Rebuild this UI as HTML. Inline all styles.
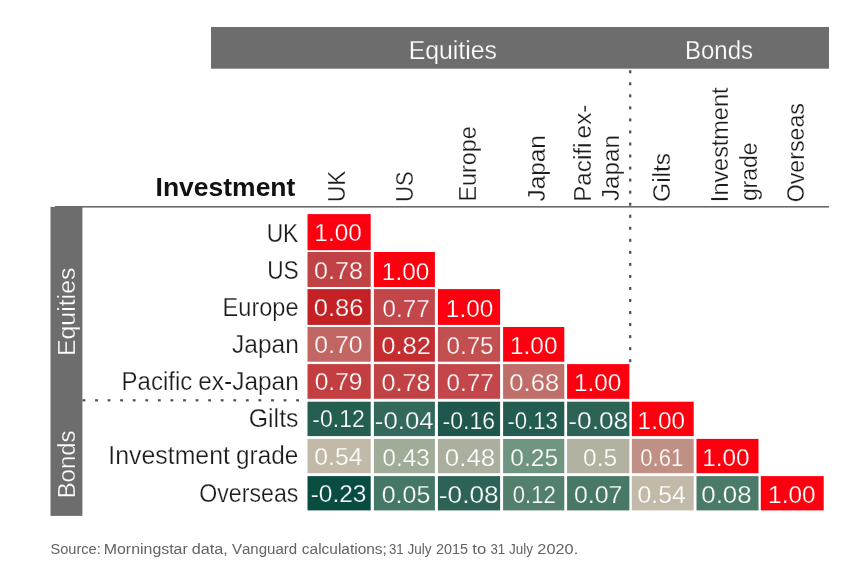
<!DOCTYPE html>
<html lang="en">
<head>
<meta charset="utf-8">
<title>Correlation matrix</title>
<style>
html,body{margin:0;padding:0;background:#ffffff;}
body{width:849px;height:570px;overflow:hidden;}
svg{display:block;}
svg text{font-family:"Liberation Sans",sans-serif;font-kerning:none;white-space:pre;}
</style>
</head>
<body>
<svg width="849" height="570" viewBox="0 0 849 570">
<rect width="849" height="570" fill="#ffffff"/>
<rect x="211" y="27" width="618" height="41.7" fill="#6d6d6d"/>
<rect x="50.5" y="206.9" width="31.9" height="309" fill="#6d6d6d"/>
<rect x="55" y="206.0" width="773.9" height="1.6" fill="#6a6a6a"/>
<g fill="#4c4c4c"><rect x="82.50" y="399.20" width="2.8" height="2.2"/><rect x="95.07" y="399.20" width="2.8" height="2.2"/><rect x="107.64" y="399.20" width="2.8" height="2.2"/><rect x="120.21" y="399.20" width="2.8" height="2.2"/><rect x="132.78" y="399.20" width="2.8" height="2.2"/><rect x="145.35" y="399.20" width="2.8" height="2.2"/><rect x="157.92" y="399.20" width="2.8" height="2.2"/><rect x="170.49" y="399.20" width="2.8" height="2.2"/><rect x="183.06" y="399.20" width="2.8" height="2.2"/><rect x="195.63" y="399.20" width="2.8" height="2.2"/><rect x="208.20" y="399.20" width="2.8" height="2.2"/><rect x="220.77" y="399.20" width="2.8" height="2.2"/><rect x="233.34" y="399.20" width="2.8" height="2.2"/><rect x="245.91" y="399.20" width="2.8" height="2.2"/><rect x="258.48" y="399.20" width="2.8" height="2.2"/><rect x="271.05" y="399.20" width="2.8" height="2.2"/><rect x="283.62" y="399.20" width="2.8" height="2.2"/><rect x="296.19" y="399.20" width="2.8" height="2.2"/><rect x="629.10" y="70.25" width="2.2" height="3"/><rect x="629.10" y="82.29" width="2.2" height="3"/><rect x="629.10" y="94.33" width="2.2" height="3"/><rect x="629.10" y="106.37" width="2.2" height="3"/><rect x="629.10" y="118.41" width="2.2" height="3"/><rect x="629.10" y="130.45" width="2.2" height="3"/><rect x="629.10" y="142.49" width="2.2" height="3"/><rect x="629.10" y="154.53" width="2.2" height="3"/><rect x="629.10" y="166.57" width="2.2" height="3"/><rect x="629.10" y="178.61" width="2.2" height="3"/><rect x="629.10" y="190.65" width="2.2" height="3"/><rect x="629.10" y="202.69" width="2.2" height="3"/><rect x="629.10" y="214.73" width="2.2" height="3"/><rect x="629.10" y="226.77" width="2.2" height="3"/><rect x="629.10" y="238.81" width="2.2" height="3"/><rect x="629.10" y="250.85" width="2.2" height="3"/><rect x="629.10" y="262.89" width="2.2" height="3"/><rect x="629.10" y="274.93" width="2.2" height="3"/><rect x="629.10" y="286.97" width="2.2" height="3"/><rect x="629.10" y="299.01" width="2.2" height="3"/><rect x="629.10" y="311.05" width="2.2" height="3"/><rect x="629.10" y="323.09" width="2.2" height="3"/><rect x="629.10" y="335.13" width="2.2" height="3"/><rect x="629.10" y="347.17" width="2.2" height="3"/><rect x="629.10" y="359.21" width="2.2" height="3"/></g>
<rect x="307.5" y="214.1" width="63.2" height="36.1" fill="#fd000f"/>
<rect x="307.5" y="252.0" width="63.2" height="35.0" fill="#c14245"/>
<rect x="373.9" y="252.0" width="61.0" height="35.0" fill="#fd000f"/>
<rect x="307.5" y="289.1" width="63.2" height="35.8" fill="#c42125"/>
<rect x="373.9" y="289.1" width="61.0" height="35.8" fill="#c2464a"/>
<rect x="437.9" y="289.1" width="62.2" height="35.8" fill="#fd000f"/>
<rect x="307.5" y="327.0" width="63.2" height="34.7" fill="#c26664"/>
<rect x="373.9" y="327.0" width="61.0" height="34.7" fill="#c42e31"/>
<rect x="437.9" y="327.0" width="62.2" height="34.7" fill="#c25051"/>
<rect x="503.1" y="327.0" width="61.2" height="34.7" fill="#fd000f"/>
<rect x="307.5" y="364.1" width="63.2" height="34.7" fill="#c23e41"/>
<rect x="373.9" y="364.1" width="61.0" height="34.7" fill="#c14245"/>
<rect x="437.9" y="364.1" width="62.2" height="34.7" fill="#c2464a"/>
<rect x="503.1" y="364.1" width="61.2" height="34.7" fill="#c06e6a"/>
<rect x="567.1" y="364.1" width="62.3" height="34.7" fill="#fd000f"/>
<rect x="307.5" y="401.7" width="63.2" height="34.4" fill="#245e51"/>
<rect x="373.9" y="401.7" width="61.0" height="34.4" fill="#33695c"/>
<rect x="437.9" y="401.7" width="62.2" height="34.4" fill="#20574c"/>
<rect x="503.1" y="401.7" width="61.2" height="34.4" fill="#235c50"/>
<rect x="567.1" y="401.7" width="62.3" height="34.4" fill="#2c6356"/>
<rect x="631.8" y="401.7" width="61.9" height="34.4" fill="#fd000f"/>
<rect x="307.5" y="438.9" width="63.2" height="34.3" fill="#c1baa9"/>
<rect x="373.9" y="438.9" width="61.0" height="34.3" fill="#9fac97"/>
<rect x="437.9" y="438.9" width="62.2" height="34.3" fill="#abaf9d"/>
<rect x="503.1" y="438.9" width="61.2" height="34.3" fill="#6f9480"/>
<rect x="567.1" y="438.9" width="62.3" height="34.3" fill="#b3b1a0"/>
<rect x="631.8" y="438.9" width="61.9" height="34.3" fill="#c09085"/>
<rect x="696.5" y="438.9" width="62.0" height="34.3" fill="#fd000f"/>
<rect x="307.5" y="476.1" width="63.2" height="34.3" fill="#094c40"/>
<rect x="373.9" y="476.1" width="61.0" height="34.3" fill="#447765"/>
<rect x="437.9" y="476.1" width="62.2" height="34.3" fill="#2c6356"/>
<rect x="503.1" y="476.1" width="61.2" height="34.3" fill="#53806d"/>
<rect x="567.1" y="476.1" width="62.3" height="34.3" fill="#487967"/>
<rect x="631.8" y="476.1" width="61.9" height="34.3" fill="#c1baa9"/>
<rect x="696.5" y="476.1" width="62.0" height="34.3" fill="#4a7a68"/>
<rect x="760.8" y="476.1" width="62.9" height="34.3" fill="#fd000f"/>
<text x="314.37" textLength="47.35" lengthAdjust="spacingAndGlyphs" y="241.30" font-size="24.6" fill="#ffffff" stroke="#fd000f" stroke-width="0.25">1.00</text>
<text x="314.08" textLength="48.92" lengthAdjust="spacingAndGlyphs" y="278.51" font-size="24.6" fill="#ffffff" stroke="#c14245" stroke-width="0.25">0.78</text>
<text x="381.87" textLength="47.35" lengthAdjust="spacingAndGlyphs" y="279.71" font-size="24.6" fill="#ffffff" stroke="#fd000f" stroke-width="0.25">1.00</text>
<text x="313.66" textLength="49.81" lengthAdjust="spacingAndGlyphs" y="315.72" font-size="24.6" fill="#ffffff" stroke="#c42125" stroke-width="0.25">0.86</text>
<text x="382.62" textLength="47.04" lengthAdjust="spacingAndGlyphs" y="316.92" font-size="24.6" fill="#ffffff" stroke="#c2464a" stroke-width="0.25">0.77</text>
<text x="445.87" textLength="47.35" lengthAdjust="spacingAndGlyphs" y="316.92" font-size="24.6" fill="#ffffff" stroke="#fd000f" stroke-width="0.25">1.00</text>
<text x="314.39" textLength="48.19" lengthAdjust="spacingAndGlyphs" y="352.93" font-size="24.6" fill="#ffffff" stroke="#c26664" stroke-width="0.25">0.70</text>
<text x="381.26" textLength="49.76" lengthAdjust="spacingAndGlyphs" y="354.13" font-size="24.6" fill="#ffffff" stroke="#c42e31" stroke-width="0.25">0.82</text>
<text x="446.46" textLength="47.15" lengthAdjust="spacingAndGlyphs" y="354.13" font-size="24.6" fill="#ffffff" stroke="#c25051" stroke-width="0.25">0.75</text>
<text x="510.07" textLength="47.35" lengthAdjust="spacingAndGlyphs" y="354.13" font-size="24.6" fill="#ffffff" stroke="#fd000f" stroke-width="0.25">1.00</text>
<text x="314.70" textLength="47.77" lengthAdjust="spacingAndGlyphs" y="390.14" font-size="24.6" fill="#ffffff" stroke="#c23e41" stroke-width="0.25">0.79</text>
<text x="381.58" textLength="48.92" lengthAdjust="spacingAndGlyphs" y="391.34" font-size="24.6" fill="#ffffff" stroke="#c14245" stroke-width="0.25">0.78</text>
<text x="446.62" textLength="47.04" lengthAdjust="spacingAndGlyphs" y="391.34" font-size="24.6" fill="#ffffff" stroke="#c2464a" stroke-width="0.25">0.77</text>
<text x="509.36" textLength="49.76" lengthAdjust="spacingAndGlyphs" y="391.34" font-size="24.6" fill="#ffffff" stroke="#c06e6a" stroke-width="0.25">0.68</text>
<text x="573.92" textLength="47.35" lengthAdjust="spacingAndGlyphs" y="391.34" font-size="24.6" fill="#ffffff" stroke="#fd000f" stroke-width="0.25">1.00</text>
<text x="312.37" textLength="52.42" lengthAdjust="spacingAndGlyphs" y="427.35" font-size="24.6" fill="#ffffff" stroke="#245e51" stroke-width="0.25">-0.12</text>
<text x="374.80" textLength="58.80" lengthAdjust="spacingAndGlyphs" y="428.55" font-size="24.6" fill="#ffffff" stroke="#33695c" stroke-width="0.25">-0.04</text>
<text x="442.57" textLength="52.48" lengthAdjust="spacingAndGlyphs" y="428.55" font-size="24.6" fill="#ffffff" stroke="#20574c" stroke-width="0.25">-0.16</text>
<text x="507.51" textLength="50.41" lengthAdjust="spacingAndGlyphs" y="428.55" font-size="24.6" fill="#ffffff" stroke="#235c50" stroke-width="0.25">-0.13</text>
<text x="568.33" textLength="59.81" lengthAdjust="spacingAndGlyphs" y="428.55" font-size="24.6" fill="#ffffff" stroke="#2c6356" stroke-width="0.25">-0.08</text>
<text x="637.62" textLength="47.35" lengthAdjust="spacingAndGlyphs" y="428.55" font-size="24.6" fill="#ffffff" stroke="#fd000f" stroke-width="0.25">1.00</text>
<text x="314.24" textLength="48.24" lengthAdjust="spacingAndGlyphs" y="464.56" font-size="24.6" fill="#ffffff" stroke="#c1baa9" stroke-width="0.25">0.54</text>
<text x="382.52" textLength="47.09" lengthAdjust="spacingAndGlyphs" y="465.76" font-size="24.6" fill="#ffffff" stroke="#9fac97" stroke-width="0.25">0.43</text>
<text x="444.85" textLength="50.38" lengthAdjust="spacingAndGlyphs" y="465.76" font-size="24.6" fill="#ffffff" stroke="#abaf9d" stroke-width="0.25">0.48</text>
<text x="510.35" textLength="47.77" lengthAdjust="spacingAndGlyphs" y="465.76" font-size="24.6" fill="#ffffff" stroke="#6f9480" stroke-width="0.25">0.25</text>
<text x="583.05" textLength="34.09" lengthAdjust="spacingAndGlyphs" y="465.76" font-size="24.6" fill="#ffffff" stroke="#b3b1a0" stroke-width="0.25">0.5</text>
<text x="640.29" textLength="43.12" lengthAdjust="spacingAndGlyphs" y="465.76" font-size="24.6" fill="#ffffff" stroke="#c09085" stroke-width="0.25">0.61</text>
<text x="702.27" textLength="47.35" lengthAdjust="spacingAndGlyphs" y="465.76" font-size="24.6" fill="#ffffff" stroke="#fd000f" stroke-width="0.25">1.00</text>
<text x="310.66" textLength="55.71" lengthAdjust="spacingAndGlyphs" y="501.77" font-size="24.6" fill="#ffffff" stroke="#094c40" stroke-width="0.25">-0.23</text>
<text x="381.74" textLength="48.61" lengthAdjust="spacingAndGlyphs" y="502.97" font-size="24.6" fill="#ffffff" stroke="#447765" stroke-width="0.25">0.05</text>
<text x="438.88" textLength="59.81" lengthAdjust="spacingAndGlyphs" y="502.97" font-size="24.6" fill="#ffffff" stroke="#2c6356" stroke-width="0.25">-0.08</text>
<text x="512.85" textLength="42.95" lengthAdjust="spacingAndGlyphs" y="502.97" font-size="24.6" fill="#ffffff" stroke="#53806d" stroke-width="0.25">0.12</text>
<text x="573.94" textLength="48.51" lengthAdjust="spacingAndGlyphs" y="502.97" font-size="24.6" fill="#ffffff" stroke="#487967" stroke-width="0.25">0.07</text>
<text x="637.49" textLength="48.24" lengthAdjust="spacingAndGlyphs" y="502.97" font-size="24.6" fill="#ffffff" stroke="#c1baa9" stroke-width="0.25">0.54</text>
<text x="701.25" textLength="50.38" lengthAdjust="spacingAndGlyphs" y="502.97" font-size="24.6" fill="#ffffff" stroke="#4a7a68" stroke-width="0.25">0.08</text>
<text x="768.12" textLength="47.35" lengthAdjust="spacingAndGlyphs" y="502.97" font-size="24.6" fill="#ffffff" stroke="#fd000f" stroke-width="0.25">1.00</text>
<text x="408.69" textLength="88.30" lengthAdjust="spacingAndGlyphs" y="59.00" font-size="25.3" fill="#ffffff" stroke="#6d6d6d" stroke-width="0.25">Equities</text>
<text x="684.95" textLength="68.09" lengthAdjust="spacingAndGlyphs" y="59.00" font-size="25.3" fill="#ffffff" stroke="#6d6d6d" stroke-width="0.25">Bonds</text>
<text x="-2.04" textLength="88.41" lengthAdjust="spacingAndGlyphs" transform="translate(75.20 354.00) rotate(-90)" y="0" font-size="24.4" fill="#ffffff" stroke="#6d6d6d" stroke-width="0.25">Equities</text>
<text x="-1.97" textLength="67.99" lengthAdjust="spacingAndGlyphs" transform="translate(75.20 496.40) rotate(-90)" y="0" font-size="24.4" fill="#ffffff" stroke="#6d6d6d" stroke-width="0.25">Bonds</text>
<text x="155.57" textLength="139.80" lengthAdjust="spacingAndGlyphs" y="195.60" font-size="25.3" fill="#111111" font-weight="bold">Investment</text>
<text x="266.64" textLength="31.73" lengthAdjust="spacingAndGlyphs" y="241.60" font-size="25.3" fill="#1c1c1c" stroke="#ffffff" stroke-width="0.25">UK</text>
<text x="267.15" textLength="31.58" lengthAdjust="spacingAndGlyphs" y="278.73" font-size="25.3" fill="#1c1c1c" stroke="#ffffff" stroke-width="0.25">US</text>
<text x="222.59" textLength="75.96" lengthAdjust="spacingAndGlyphs" y="315.86" font-size="25.3" fill="#1c1c1c" stroke="#ffffff" stroke-width="0.25">Europe</text>
<text x="232.06" textLength="66.72" lengthAdjust="spacingAndGlyphs" y="352.99" font-size="25.3" fill="#1c1c1c" stroke="#ffffff" stroke-width="0.25">Japan</text>
<text y="390.12" font-size="25.3" fill="#1c1c1c" stroke="#ffffff" stroke-width="0.25"><tspan x="121.56" textLength="70.68" lengthAdjust="spacingAndGlyphs">Pacific</tspan> <tspan x="198.29" textLength="100.48" lengthAdjust="spacingAndGlyphs">ex-Japan</tspan></text>
<text x="248.77" textLength="49.71" lengthAdjust="spacingAndGlyphs" y="427.25" font-size="25.3" fill="#1c1c1c" stroke="#ffffff" stroke-width="0.25">Gilts</text>
<text y="464.38" font-size="25.3" fill="#1c1c1c" stroke="#ffffff" stroke-width="0.25"><tspan x="108.34" textLength="121.55" lengthAdjust="spacingAndGlyphs">Investment</tspan> <tspan x="236.09" textLength="62.17" lengthAdjust="spacingAndGlyphs">grade</tspan></text>
<text x="199.25" textLength="99.19" lengthAdjust="spacingAndGlyphs" y="501.51" font-size="25.3" fill="#1c1c1c" stroke="#ffffff" stroke-width="0.25">Overseas</text>
<text x="-1.70" textLength="31.35" lengthAdjust="spacingAndGlyphs" transform="translate(345.20 200.30) rotate(-90)" y="0" font-size="24.6" fill="#1c1c1c" stroke="#ffffff" stroke-width="0.25">UK</text>
<text x="-1.66" textLength="30.67" lengthAdjust="spacingAndGlyphs" transform="translate(413.20 200.30) rotate(-90)" y="0" font-size="24.6" fill="#1c1c1c" stroke="#ffffff" stroke-width="0.25">US</text>
<text x="-1.90" textLength="75.42" lengthAdjust="spacingAndGlyphs" transform="translate(476.20 199.70) rotate(-90)" y="0" font-size="24.6" fill="#1c1c1c" stroke="#ffffff" stroke-width="0.25">Europe</text>
<text x="-0.35" textLength="66.41" lengthAdjust="spacingAndGlyphs" transform="translate(545.20 201.20) rotate(-90)" y="0" font-size="24.6" fill="#1c1c1c" stroke="#ffffff" stroke-width="0.25">Japan</text>
<text transform="translate(591.20 199.80) rotate(-90)" y="0" font-size="24.6" fill="#1c1c1c" stroke="#ffffff" stroke-width="0.25"><tspan x="-1.97" textLength="59.14" lengthAdjust="spacingAndGlyphs">Pacifi</tspan> <tspan x="61.41" textLength="33.85" lengthAdjust="spacingAndGlyphs">ex-</tspan></text>
<text x="-0.35" textLength="66.10" lengthAdjust="spacingAndGlyphs" transform="translate(619.20 200.70) rotate(-90)" y="0" font-size="24.6" fill="#1c1c1c" stroke="#ffffff" stroke-width="0.25">Japan</text>
<text x="-1.19" textLength="48.94" lengthAdjust="spacingAndGlyphs" transform="translate(670.20 200.70) rotate(-90)" y="0" font-size="24.6" fill="#1c1c1c" stroke="#ffffff" stroke-width="0.25">Gilts</text>
<text x="-2.14" textLength="114.56" lengthAdjust="spacingAndGlyphs" transform="translate(728.20 200.00) rotate(-90)" y="0" font-size="24.6" fill="#1c1c1c" stroke="#ffffff" stroke-width="0.25">Investment</text>
<text x="-0.93" textLength="58.52" lengthAdjust="spacingAndGlyphs" transform="translate(757.20 200.20) rotate(-90)" y="0" font-size="24.6" fill="#1c1c1c" stroke="#ffffff" stroke-width="0.25">grade</text>
<text x="-1.08" textLength="99.20" lengthAdjust="spacingAndGlyphs" transform="translate(804.20 201.20) rotate(-90)" y="0" font-size="24.6" fill="#1c1c1c" stroke="#ffffff" stroke-width="0.25">Overseas</text>
<text y="553.50" font-size="14" fill="#636363"><tspan x="50.48" textLength="50.22" lengthAdjust="spacingAndGlyphs">Source:</tspan> <tspan x="103.75" textLength="84.00" lengthAdjust="spacingAndGlyphs">Morningstar</tspan> <tspan x="191.76" textLength="36.07" lengthAdjust="spacingAndGlyphs">data,</tspan> <tspan x="231.95" textLength="65.29" lengthAdjust="spacingAndGlyphs">Vanguard</tspan> <tspan x="301.89" textLength="84.97" lengthAdjust="spacingAndGlyphs">calculations;</tspan> <tspan x="389.03" textLength="14.66" lengthAdjust="spacingAndGlyphs">31</tspan> <tspan x="407.51" textLength="24.09" lengthAdjust="spacingAndGlyphs">July</tspan> <tspan x="436.08" textLength="32.03" lengthAdjust="spacingAndGlyphs">2015</tspan> <tspan x="472.36" textLength="13.93" lengthAdjust="spacingAndGlyphs">to</tspan> <tspan x="490.43" textLength="14.66" lengthAdjust="spacingAndGlyphs">31</tspan> <tspan x="509.01" textLength="24.09" lengthAdjust="spacingAndGlyphs">July</tspan> <tspan x="537.38" textLength="40.85" lengthAdjust="spacingAndGlyphs">2020.</tspan></text>
</svg>
</body>
</html>
